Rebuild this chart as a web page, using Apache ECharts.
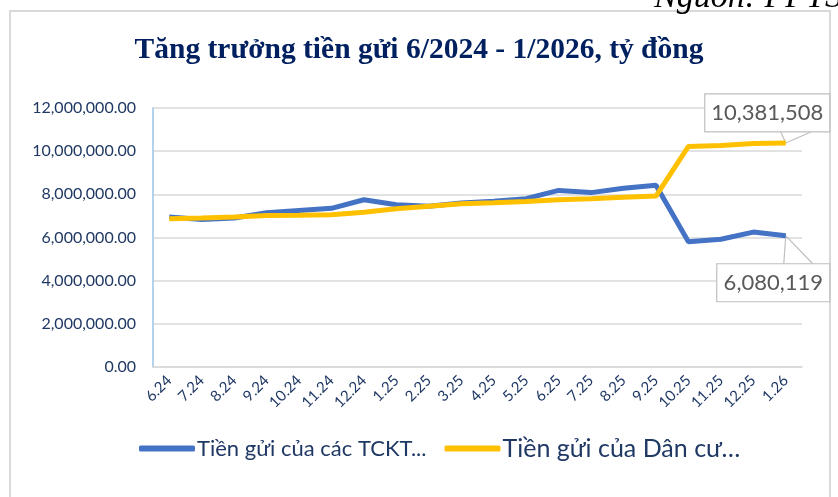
<!DOCTYPE html>
<html>
<head>
<meta charset="utf-8">
<script src="https://cdn.jsdelivr.net/npm/echarts@6/dist/echarts.min.js"></script>
<style>
  html, body { margin: 0; padding: 0; background: #fff; }
  #chart { width: 838px; height: 497px; }
</style>
</head>
<body>
<div id="chart"></div>
<script>
// số liệu
var months = ['6.24', '7.24', '8.24', '9.24', '10.24', '11.24', '12.24', '1.25', '2.25', '3.25',
    '4.25', '5.25', '6.25', '7.25', '8.25', '9.25', '10.25', '11.25', '12.25', '1.26'];
var tcktName = 'Tiền gửi của các TCKT...';
var danCuName = 'Tiền gửi của Dân cư…';
var tcktValues = [6950000, 6830000, 6900000, 7150000, 7250000, 7350000, 7750000, 7520000, 7450000, 7600000,
    7680000, 7800000, 8180000, 8080000, 8280000, 8420000, 5800000, 5920000, 6250000, 6080119];
var danCuValues = [6870000, 6900000, 6950000, 7020000, 7030000, 7050000, 7170000, 7330000, 7450000, 7560000,
    7610000, 7670000, 7750000, 7800000, 7870000, 7920000, 10220000, 10260000, 10350000, 10381508];

var navy = '#1F3864';
var fontName = 'Lato';

var chart = echarts.init(document.getElementById('chart'));

function fmtNum(v, dec) {
    return Number(v).toLocaleString('en-US', { minimumFractionDigits: dec, maximumFractionDigits: dec });
}

var option = {
    animation: false,
    backgroundColor: '#fff',
    title: {
        text: 'Tăng trưởng tiền gửi 6/2024 - 1/2026, tỷ đồng',
        left: 'center',
        top: 30,
        textStyle: {
            fontFamily: 'Liberation Serif',
            fontWeight: 'bold',
            fontSize: 29.5,
            color: '#002060'
        }
    },
    grid: { left: 153, right: 36, top: 108, bottom: 130 },
    legend: {
        bottom: 31,
        left: 134,
        itemWidth: 56,
        itemHeight: 6,
        itemGap: 18,
        icon: 'roundRect',
        data: [tcktName, danCuName],
        formatter: function (name) {
            return name === tcktName ? '{s|' + name + '}' : '{l|' + name + '}';
        },
        textStyle: {
            color: navy,
            fontFamily: fontName,
            padding: [0, 0, 0, -3],
            rich: {
                s: { fontSize: 22, fontFamily: fontName, color: navy },
                l: { fontSize: 25, fontFamily: fontName, color: navy }
            }
        }
    },
    xAxis: {
        type: 'category',
        data: months,
        boundaryGap: true,
        axisLine: { lineStyle: { color: '#d9d9d9', width: 1.5 } },
        axisTick: { show: false },
        axisLabel: {
            rotate: 45,
            interval: 0,
            color: navy,
            fontFamily: fontName,
            fontSize: 15,
            margin: 11
        }
    },
    yAxis: {
        type: 'value',
        min: 0,
        max: 12000000,
        interval: 2000000,
        axisLine: { show: true, lineStyle: { color: '#9DC3E6', width: 1.5 } },
        axisTick: { show: false },
        splitLine: { lineStyle: { color: '#d9d9d9', width: 1.5 } },
        axisLabel: {
            color: navy,
            fontFamily: fontName,
            fontSize: 16,
            margin: 17,
            formatter: function (v) { return fmtNum(v, 2); }
        }
    },
    series: [
        {
            name: tcktName,
            type: 'line',
            data: tcktValues,
            symbol: 'none',
            lineStyle: { color: '#4472C4', width: 5 },
            itemStyle: { color: '#4472C4' }
        },
        {
            name: danCuName,
            type: 'line',
            data: danCuValues,
            symbol: 'none',
            lineStyle: { color: '#FFC000', width: 5 },
            itemStyle: { color: '#FFC000' }
        }
    ]
};

chart.setOption(option);

// khung viền, nguồn và hai chú thích giá trị cuối kỳ
var last = months.length - 1;
var pTop = chart.convertToPixel({ seriesIndex: 1 }, [last, danCuValues[last]]);
var pBot = chart.convertToPixel({ seriesIndex: 0 }, [last, tcktValues[last]]);

function callout(p, text, boxLeft, boxTop, w, h, pointer) {
    return [
        {
            type: 'polyline',
            silent: true,
            shape: { points: [[p[0] + pointer[0], p[1] + pointer[2]], [p[0], p[1]], [p[0] + pointer[1], p[1] + pointer[2]]] },
            style: { stroke: '#bfbfbf', lineWidth: 1.2, fill: null }
        },
        {
            type: 'rect',
            shape: { x: p[0] + boxLeft, y: p[1] + boxTop, width: w, height: h },
            style: { fill: '#fff', stroke: '#bfbfbf', lineWidth: 1.2 }
        },
        {
            type: 'text',
            x: p[0] + boxLeft + w / 2,
            y: p[1] + boxTop + h / 2,
            style: {
                text: text,
                fill: '#595959',
                font: '22px ' + fontName,
                align: 'center',
                verticalAlign: 'middle'
            }
        }
    ];
}

var topParts = callout(pTop, fmtNum(danCuValues[last], 0), -81, -49, 125, 38, [-5, 25, -11]);
var botParts = callout(pBot, fmtNum(tcktValues[last], 0), -69, 28, 113, 38, [-2, 27, 28]);

chart.setOption({
    graphic: [
        {
            type: 'rect',
            silent: true,
            shape: { x: 10, y: 11, width: 820, height: 500 },
            style: { fill: null, stroke: '#d9d9d9', lineWidth: 2 }
        },
        {
            type: 'text',
            x: 842,
            y: 15,
            style: {
                text: 'Nguồn: FPTS',
                fill: '#000',
                font: 'italic 34px "Liberation Serif"',
                align: 'right',
                verticalAlign: 'bottom'
            }
        }
    ].concat(topParts, botParts)
});
</script>
</body>
</html>
